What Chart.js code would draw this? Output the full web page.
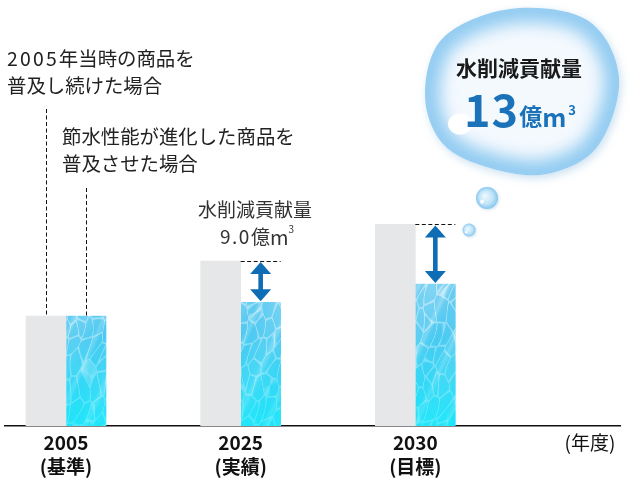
<!DOCTYPE html>
<html><head><meta charset="utf-8">
<script src="https://cdn.jsdelivr.net/npm/chart.js@4.4.0/dist/chart.umd.min.js"></script>
<style>html,body{margin:0;padding:0;background:#fff;}#wrap{width:639px;height:486px;position:relative;}</style>
</head><body><div id="wrap"><canvas id="c"></canvas></div>
<script>
// ---- data ----
const years = ['2005', '2025', '2030'];
const yearNotes = ['(基準)', '(実績)', '(目標)'];
const axisUnit = '(年度)';
const conventionalUse = [24, 36, 44]; // 2005年当時の商品を普及し続けた場合
const improvedUse = [24, 27, 31];     // 節水性能が進化した商品を普及させた場合
const reductionText = ['', '9.0', '13'];

const JP = '"Noto Sans CJK JP", sans-serif';
const canvas = document.getElementById('c');
const cctx = canvas.getContext('2d');

// decorative water texture (caustic net), used as the fill of the second series
function makeWater() {
  const W = 639, H = 486, y0 = 270, y1 = 430;
  const c = document.createElement('canvas'); c.width = W; c.height = H;
  const x = c.getContext('2d');
  const gr = x.createLinearGradient(0, 285, 0, 426);
  gr.addColorStop(0, '#6fcdf1'); gr.addColorStop(0.35, '#4cc9f1'); gr.addColorStop(1, '#1ee6fa');
  x.fillStyle = gr; x.fillRect(0, 0, W, H);
  const img = x.getImageData(0, y0, W, y1 - y0);
  const d = img.data;
  const hash = (i, j, k) => { const s = Math.sin(i * 127.1 + j * 311.7 + k * 74.7) * 43758.5453; return s - Math.floor(s); };
  const sx = 9, sy = 20;
  for (let py = 0; py < y1 - y0; py++) {
    const Y = py + y0;
    const t = Math.min(1, Math.max(0, (Y - 285) / 141));
    for (let px = 0; px < W; px++) {
      const wx = px + 3 * Math.sin(Y * 0.09) + (Y - 280) * 0.18;
      const ci = Math.floor(wx / sx), cj = Math.floor(Y / sy);
      let d1 = 1e9, d2 = 1e9;
      for (let a = -1; a <= 1; a++) for (let b = -1; b <= 1; b++) {
        const i = ci + a, j = cj + b;
        const qx = (i + hash(i, j, 1)) * sx, qy = (j + hash(i, j, 2)) * sy;
        const dx = wx - qx, dy = (Y - qy) / 2.0;
        const dd = Math.sqrt(dx * dx + dy * dy);
        if (dd < d1) { d2 = d1; d1 = dd; } else if (dd < d2) d2 = dd;
      }
      const e = d2 - d1;
      let I = Math.max(0, 1 - e / 1.4) * (0.5 - 0.28 * t);
      const band = Math.pow(Math.max(0, Math.sin((px + Y * 0.45) * 0.21)), 6);
      I += band * (0.22 - 0.12 * t);
      I += (0.14 - 0.12 * t) * (0.5 + 0.5 * Math.sin(px * 0.13 + Y * 0.05));
      I = Math.min(0.8, I);
      const k = (py * W + px) * 4;
      d[k] = d[k] + (255 - d[k]) * I;
      d[k + 1] = d[k + 1] + (255 - d[k + 1]) * I;
      d[k + 2] = d[k + 2] + (255 - d[k + 2]) * I;
    }
  }
  x.putImageData(img, 0, y0);
  return cctx.createPattern(c, 'no-repeat');
}
const water = makeWater();

function drawRuns(ctx, runs, x, y, align, baseline) {
  let w = 0;
  for (const r of runs) { ctx.font = r.font; ctx.letterSpacing = (r.ls || 0) + 'px'; w += ctx.measureText(r.t).width; }
  let cx = align === 'center' ? x - w / 2 : x;
  ctx.textAlign = 'left'; ctx.textBaseline = baseline || 'middle';
  for (const r of runs) {
    ctx.font = r.font; ctx.letterSpacing = (r.ls || 0) + 'px';
    ctx.fillStyle = r.color || '#222';
    ctx.fillText(r.t, cx, y + (r.dy || 0));
    cx += ctx.measureText(r.t).width;
  }
  ctx.letterSpacing = '0px';
}

function smoothClosed(ctx, pts) {
  const n = pts.length;
  ctx.beginPath(); ctx.moveTo(pts[0][0], pts[0][1]);
  for (let i = 0; i < n; i++) {
    const p0 = pts[(i - 1 + n) % n], p1 = pts[i], p2 = pts[(i + 1) % n], p3 = pts[(i + 2) % n];
    ctx.bezierCurveTo(p1[0] + (p2[0] - p0[0]) / 6, p1[1] + (p2[1] - p0[1]) / 6,
      p2[0] - (p3[0] - p1[0]) / 6, p2[1] - (p3[1] - p1[1]) / 6, p2[0], p2[1]);
  }
  ctx.closePath();
}

function smallBubble(ctx, cx, cy, r) {
  ctx.save();
  ctx.shadowColor = 'rgba(120,170,210,0.35)'; ctx.shadowBlur = 3; ctx.shadowOffsetX = 1; ctx.shadowOffsetY = 1;
  const g = ctx.createRadialGradient(cx - r * 0.2, cy - r * 0.2, r * 0.1, cx, cy, r);
  g.addColorStop(0, '#e9f6fd'); g.addColorStop(0.6, '#bfe3f8'); g.addColorStop(1, '#86c7ee');
  ctx.fillStyle = g; ctx.beginPath(); ctx.arc(cx, cy, r, 0, Math.PI * 2); ctx.fill();
  ctx.shadowColor = 'transparent';
  ctx.fillStyle = 'rgba(255,255,255,0.9)'; ctx.beginPath(); ctx.arc(cx - r * 0.45, cy + r * 0.35, r * 0.18, 0, Math.PI * 2); ctx.fill();
  ctx.restore();
}

function arrow(ctx, x, y1, y2) {
  const hl = 12, hw = 10.5, sw = 2.3;
  ctx.fillStyle = '#0f6db5';
  ctx.beginPath();
  ctx.moveTo(x, y1); ctx.lineTo(x + hw, y1 + hl); ctx.lineTo(x + sw, y1 + hl);
  ctx.lineTo(x + sw, y2 - hl); ctx.lineTo(x + hw, y2 - hl); ctx.lineTo(x, y2);
  ctx.lineTo(x - hw, y2 - hl); ctx.lineTo(x - sw, y2 - hl); ctx.lineTo(x - sw, y1 + hl);
  ctx.lineTo(x - hw, y1 + hl); ctx.closePath(); ctx.fill();
}

const overlay = {
  id: 'overlay',
  afterDatasetsDraw(chart) {
    const ctx = chart.ctx;
    const g = chart.getDatasetMeta(0).data;
    const b = chart.getDatasetMeta(1).data;
    ctx.save();
    ctx.strokeStyle = '#111'; ctx.lineWidth = 1; ctx.setLineDash([4, 2.5]);
    const ln = (x1, y1, x2, y2) => { ctx.beginPath(); ctx.moveTo(x1, y1); ctx.lineTo(x2, y2); ctx.stroke(); };
    ln(Math.round(g[0].x) + 0.5, 109, Math.round(g[0].x) + 0.5, g[0].y);
    ln(Math.round(b[0].x) + 0.5, 188, Math.round(b[0].x) + 0.5, b[0].y);
    for (let i = 1; i < years.length; i++) {
      const yy = Math.round(g[i].y) + 0.5;
      ln(b[i].x - b[i].width / 2, yy, b[i].x + b[i].width / 2, yy);
    }
    ctx.setLineDash([]);
    for (let i = 1; i < years.length; i++) arrow(ctx, b[i].x, g[i].y + 1, b[i].y - 1);

    const f = '19.4px ' + JP;
    drawRuns(ctx, [{ t: '2005', font: f, ls: 2.2 }, { t: '年当時の商品を', font: f }], 7, 59, 'left');
    drawRuns(ctx, [{ t: '普及し続けた場合', font: f }], 7, 86, 'left');
    drawRuns(ctx, [{ t: '節水性能が進化した商品を', font: f }], 62, 137, 'left');
    drawRuns(ctx, [{ t: '普及させた場合', font: f }], 62, 164, 'left');

    const f2 = '19px ' + JP;
    drawRuns(ctx, [{ t: '水削減貢献量', font: f2, color: '#333' }], 255, 210, 'center');
    drawRuns(ctx, [{ t: reductionText[1], font: f2, ls: 1.5, color: '#333' }, { t: '億', font: f2, color: '#333' },
      { t: 'm', font: '20px ' + JP, color: '#333' }, { t: '3', font: '10px ' + JP, dy: -8, color: '#333' }], 257, 237, 'center');

    const pts = [[510, 9], [587, 20], [619, 77], [598, 146], [547, 174], [490, 168], [443, 144], [425, 95], [443, 38]];
    ctx.save();
    ctx.shadowColor = 'rgba(110,170,215,0.35)'; ctx.shadowBlur = 8; ctx.shadowOffsetX = 2; ctx.shadowOffsetY = 3;
    smoothClosed(ctx, pts); ctx.fillStyle = '#f4f9fe'; ctx.fill();
    ctx.restore();
    ctx.save();
    smoothClosed(ctx, pts); ctx.clip();
    ctx.filter = 'blur(8px)';
    smoothClosed(ctx, pts); ctx.lineWidth = 30; ctx.strokeStyle = 'rgba(135,198,240,0.9)'; ctx.stroke();
    ctx.filter = 'none';
    ctx.restore();
    ctx.fillStyle = '#fff'; ctx.beginPath(); ctx.ellipse(460, 124, 12, 10.5, 0, 0, Math.PI * 2); ctx.fill();

    drawRuns(ctx, [{ t: '水削減貢献量', font: 'bold 21px ' + JP, color: '#1a1a1a' }], 519, 68, 'center');
    drawRuns(ctx, [{ t: reductionText[2], font: 'bold 45px ' + JP, color: '#1b72b9', ls: 1 },
      { t: '億', font: 'bold 23px ' + JP, color: '#1b72b9', dy: -2 },
      { t: 'm', font: 'bold 25px ' + JP, color: '#1b72b9', ls: 2 },
      { t: '3', font: 'bold 13px ' + JP, color: '#1b72b9', dy: -12 }], 520, 127, 'center', 'alphabetic');

    smallBubble(ctx, 487, 198, 11);
    smallBubble(ctx, 469, 230, 6.5);
    ctx.restore();
  }
};

new Chart(canvas, {
  type: 'bar',
  data: {
    datasets: [
      { label: '2005年当時の商品を普及し続けた場合', data: conventionalUse.map((v, i) => ({ x: i, y: v })), backgroundColor: '#e6e7e8', borderWidth: 0, barThickness: 40 },
      { label: '節水性能が進化した商品を普及させた場合', data: improvedUse.map((v, i) => ({ x: i, y: v })), backgroundColor: water, borderWidth: 0, barThickness: 40 }
    ]
  },
  options: {
    responsive: true, maintainAspectRatio: false, animation: false, events: [],
    layout: { padding: { left: 5, right: 19, top: 0, bottom: 0 } },
    plugins: { legend: { display: false }, tooltip: { enabled: false } },
    scales: {
      x: {
        type: 'linear', min: -0.3492, max: 3.1718, offset: false,
        grid: { display: false, drawTicks: false },
        border: { display: true, color: '#111', width: 1.5 },
        afterBuildTicks: (s) => { s.ticks = [0, 1, 2, 3].map(v => ({ value: v })); },
        afterFit: (s) => { s.height = 60; s.paddingLeft = 0; s.paddingRight = 0; },
        ticks: {
          autoSkip: false, maxRotation: 0, padding: 5.5, color: '#111',
          font: (c) => ({ family: JP, size: 19, weight: c.index === 3 ? 'normal' : 'bold', lineHeight: 1.24 }),
          callback: (v) => { const i = Math.round(v); return i < years.length ? [years[i], yearNotes[i]] : axisUnit; }
        }
      },
      y: { display: false, min: 0, max: 93 }
    }
  },
  plugins: [overlay]
});
</script>
</body></html>
